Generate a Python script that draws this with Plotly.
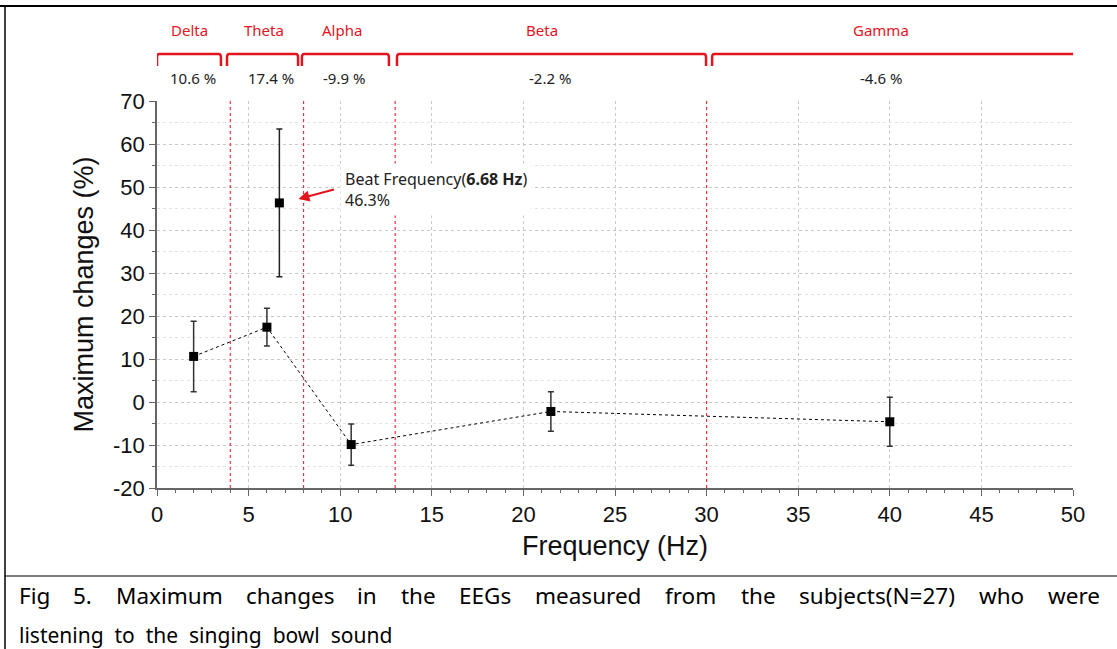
import plotly.graph_objects as go

# ---- data ----
freq = [2, 6, 10.6, 21.5, 40]
change = [10.6, 17.4, -9.9, -2.2, -4.6]
err = [8.2, 4.4, 4.8, 4.6, 5.7]

beat_freq = [6.68]
beat_change = [46.3]
beat_err = [17.2]

bands = ["Delta", "Theta", "Alpha", "Beta", "Gamma"]
band_values = ["10.6 %", "17.4 %", "-9.9 %", "-2.2 %", "-4.6 %"]
band_edges = [4, 8, 13, 30]
band_start = [0, 3.82, 7.91, 13.1, 30.3]
band_end = [3.49, 7.70, 12.66, 29.97, 50.1]
band_label_x = [1.8, 5.84, 10.1, 21.0, 39.5]
band_value_x = [1.95, 6.2, 10.2, 21.45, 39.5]

x_ticks = [0, 5, 10, 15, 20, 25, 30, 35, 40, 45, 50]
x_labels = ["0", "5", "10", "15", "20", "25", "30", "35", "40", "45", "50"]
y_ticks = [-20, -10, 0, 10, 20, 30, 40, 50, 60, 70]
y_labels = ["-20", "-10", "0", "10", "20", "30", "40", "50", "60", "70"]

caption_line1 = ["Fig", "5.", "Maximum", "changes", "in", "the", "EEGs", "measured",
                 "from", "the", "subjects(N=27)", "who", "were"]
caption_line2 = ["listening", "to", "the", "singing", "bowl", "sound"]

# ---- geometry ----
W, H = 1117, 649
L, R, T, B = 157, 44, 101, 161
PW = W - L - R
PH = H - T - B


def px_x(p):
    return (p - L) / PW


def px_y(p):
    return (H - B - p) / PH


# approximate Noto Sans advance widths (em) for justifying the caption's first line
ADV = {"F": .516, "E": .556, "G": .713, "M": .907, "N": .764, "a": .556, "b": .613,
       "c": .476, "d": .613, "e": .561, "f": .336, "g": .546, "h": .613, "i": .258,
       "j": .258, "m": .931, "n": .613, "o": .602, "r": .408, "s": .477, "t": .352,
       "u": .613, "w": .813, "x": .525, "(": .296, ")": .296, "=": .571, ".": .268}
CAP_SIZE = 22.5


def word_w(wd):
    return sum(ADV.get(ch, .571) for ch in wd) * CAP_SIZE


cap_left, cap_right = 18, 1100
widths = [word_w(wd) for wd in caption_line1]
gap = (cap_right - cap_left - sum(widths)) / (len(caption_line1) - 1)
lefts = []
pos = cap_left
for wd_w in widths:
    lefts.append(pos)
    pos += wd_w + gap

RED = "#e3141e"
AX = "#666666"

fig = go.Figure()

fig.add_trace(go.Scatter(
    x=freq, y=change, mode="lines+markers",
    line=dict(color="black", width=1, dash="dot"),
    marker=dict(symbol="square", size=9, color="black"),
    error_y=dict(type="data", array=err, visible=True, color="#333333",
                 thickness=1.5, width=3),
    showlegend=False,
))
fig.add_trace(go.Scatter(
    x=beat_freq, y=beat_change, mode="markers",
    marker=dict(symbol="square", size=9, color="black"),
    error_y=dict(type="data", array=beat_err, visible=True, color="#222222",
                 thickness=1.5, width=3),
    showlegend=False,
))

shapes = []
# band separators
for e in band_edges:
    shapes.append(dict(type="line", xref="x", yref="y", x0=e, x1=e, y0=-20, y1=70,
                       line=dict(color="#e8323c", width=1.2, dash="3px,3px"), layer="above"))

# brackets
yt = px_y(54)
yb = px_y(66)
dy = (yt - yb) * 0.3
for s, e in zip(band_start, band_end):
    d = 0.12
    path = (f"M {s},{yb} L {s},{yt - dy} Q {s},{yt} {s + d},{yt} "
            f"L {e - d},{yt} Q {e},{yt} {e},{yt - dy} L {e},{yb}")
    shapes.append(dict(type="path", xref="x", yref="paper", path=path,
                       line=dict(color=RED, width=2.5)))

# frame lines
shapes.append(dict(type="line", xref="paper", yref="paper",
                   x0=px_x(0), x1=px_x(W), y0=px_y(6), y1=px_y(6),
                   line=dict(color="black", width=2)))
shapes.append(dict(type="line", xref="paper", yref="paper",
                   x0=px_x(5), x1=px_x(5), y0=px_y(6), y1=px_y(H),
                   line=dict(color="black", width=1.5)))
shapes.append(dict(type="line", xref="paper", yref="paper",
                   x0=px_x(5), x1=px_x(W), y0=px_y(576), y1=px_y(576),
                   line=dict(color="black", width=1.2)))

annotations = []
for name, xc in zip(bands, band_label_x):
    annotations.append(dict(x=xc, y=px_y(30), xref="x", yref="paper", text=name,
                            showarrow=False, xanchor="center", yanchor="middle",
                            font=dict(family="Noto Sans", size=15, color=RED)))
for val, xc in zip(band_values, band_value_x):
    annotations.append(dict(x=xc, y=px_y(78), xref="x", yref="paper", text=val,
                            showarrow=False, xanchor="center", yanchor="middle",
                            font=dict(family="Noto Sans", size=15, color="#222222")))

# beat frequency callout
annotations.append(dict(x=10.0, y=49.4, xref="x", yref="y",
                        text=f"Beat Frequency(<b>{beat_freq[0]} Hz</b>)<br>{beat_change[0]}%",
                        showarrow=False, xanchor="left", yanchor="middle", align="left",
                        bgcolor="white", borderpad=4,
                        font=dict(family="Noto Sans", size=16, color="#222222")))
annotations.append(dict(x=7.72, y=47.2, xref="x", yref="y", text="",
                        showarrow=True, ax=37, ay=-10, arrowcolor=RED,
                        arrowhead=2, arrowsize=1, arrowwidth=2.2))

# caption (justified first line, natural second line)
for word, p in zip(caption_line1, lefts):
    annotations.append(dict(x=px_x(p), y=px_y(595), xref="paper", yref="paper", text=word,
                            showarrow=False, xanchor="left", yanchor="middle", borderpad=0,
                            font=dict(family="Noto Sans", size=CAP_SIZE, color="black")))
annotations.append(dict(x=px_x(18), y=px_y(635), xref="paper", yref="paper",
                        text="&nbsp; ".join(caption_line2), borderpad=0,
                        showarrow=False, xanchor="left", yanchor="middle",
                        font=dict(family="Noto Sans", size=21, color="black")))

fig.update_layout(
    width=W, height=H,
    margin=dict(l=L, r=R, t=T, b=B, pad=0),
    paper_bgcolor="white", plot_bgcolor="white",
    shapes=shapes, annotations=annotations,
    font=dict(family="Liberation Sans, Arial", color="#222222"),
    xaxis=dict(
        range=[0, 50], tickvals=x_ticks, ticktext=x_labels, ticks="outside", ticklen=6,
        tickwidth=1.2, tickcolor=AX, showline=True, linecolor=AX, linewidth=1.5,
        showgrid=True, gridcolor="#c8c8c8", griddash="dot", gridwidth=1,
        zeroline=False, tickfont=dict(size=22, color="#111111"),
        minor=dict(dtick=1, ticks="outside", ticklen=3, tickcolor=AX, showgrid=False),
        title=dict(text="Frequency (Hz)", font=dict(size=27, color="#111111"), standoff=10),
    ),
    yaxis=dict(
        range=[-20, 70], tickvals=y_ticks, ticktext=y_labels, ticks="outside", ticklen=6,
        tickwidth=1.2, tickcolor=AX, showline=True, linecolor=AX, linewidth=1.5,
        showgrid=True, gridcolor="#c8c8c8", griddash="dot", gridwidth=1,
        zeroline=False, tickfont=dict(size=22, color="#111111"),
        minor=dict(dtick=5, ticks="outside", ticklen=3, tickcolor=AX,
                   showgrid=True, gridcolor="#e4e4e4", gridwidth=1),
        title=dict(text="Maximum changes (%)", font=dict(size=27, color="#111111"), standoff=12),
    ),
)

fig.write_html("out.html", config={"displayModeBar": False},
               post_script="document.body.style.margin='0';")
